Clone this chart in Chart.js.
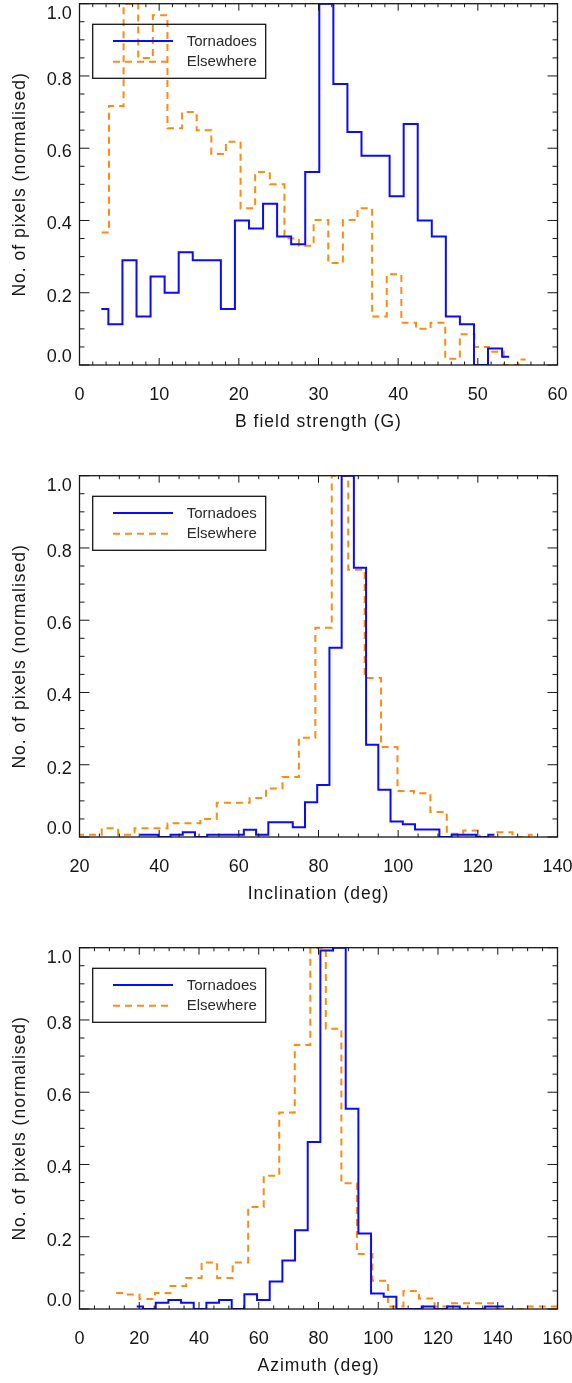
<!DOCTYPE html>
<html><head><meta charset="utf-8">
<script src="https://cdn.jsdelivr.net/npm/chart.js@4.4.1/dist/chart.umd.min.js"></script>
<style>
html,body{margin:0;padding:0;background:#fff;overflow:hidden;width:572px;height:1383px;}
.p{position:absolute;left:0;width:572px;height:439px;}
canvas{display:block;}
</style></head><body>
<div class="p" style="top:0px"><canvas id="c1" width="572" height="439"></canvas></div>
<div class="p" style="top:472px"><canvas id="c2" width="572" height="439"></canvas></div>
<div class="p" style="top:944px"><canvas id="c3" width="572" height="439"></canvas></div>
<script>
// ---------- DATA ----------
const seriesNames = ['Tornadoes', 'Elsewhere'];
const yAxisTitle = 'No. of pixels (normalised)';
const xAxisTitles = ['B field strength (G)', 'Inclination (deg)', 'Azimuth (deg)'];
const xRanges = [[0, 60], [20, 140], [0, 160]];
const xMajorSteps = [10, 20, 20];
const xMinorSteps = [10 / 6, 5, 5];
const yRange = [0, 1];
const yMajorStep = 0.2;

// Panel 1: B field strength
const bTornX = [2.74,4.51,6.27,8.04,9.80,11.57,13.33,15.10,16.86,18.63,20.39,22.16,23.92,25.69,27.45,29.22,30.98,32.75,34.51,36.28,38.04,39.81,41.57,43.34,45.10,46.87,48.63,50.40,52.16,53.93];
const bTornY = [0.155,0.113,0.29,0.134,0.245,0.20,0.312,0.29,0.29,0.155,0.40,0.378,0.446,0.356,0.334,0.534,1.0,0.778,0.645,0.579,0.579,0.467,0.667,0.40,0.356,0.134,0.113,0.0,0.046,0.023];
const bElseX = [2.78,4.62,6.45,8.29,10.12,11.96,13.79,15.63,17.46,19.30,21.13,22.97,24.80,26.64,28.47,30.31,32.14,33.98,35.81,37.65,39.48,41.32,43.15,44.99,46.82,48.66,50.49,52.33,54.16,56.00];
const bElseY = [0.367,0.717,1.0,0.85,0.968,0.655,0.70,0.65,0.584,0.618,0.434,0.534,0.50,0.35,0.33,0.401,0.282,0.401,0.434,0.134,0.251,0.117,0.10,0.117,0.017,0.085,0.05,0.037,0.0,0.015];

// Panel 2: Inclination
const incTornX = [35.19,38.26,41.33,44.39,47.46,50.53,53.60,56.67,59.73,62.80,65.87,68.94,72.01,75.07,78.14,81.21,84.28,87.35,90.41,93.48,96.55,99.62,102.69,105.75,108.82,111.89,114.96,118.03,121.09,124.16];
const incTornY = [0.006,0.006,0.0,0.006,0.013,0.0,0.006,0.006,0.006,0.02,0.006,0.041,0.041,0.027,0.096,0.144,0.524,1.0,0.745,0.255,0.131,0.043,0.035,0.021,0.021,0.0,0.006,0.006,0.0,0.006];
const incElseX = [19.39,23.52,27.64,31.77,35.89,40.02,44.14,48.27,52.39,56.52,60.64,64.77,68.89,73.02,77.14,81.27,85.39,89.52,93.64,97.77,101.89,106.02,110.14,114.27,118.39,122.52,126.64,130.77,134.89];
const incElseY = [0.006,0.006,0.024,0.006,0.024,0.024,0.038,0.038,0.05,0.095,0.095,0.108,0.134,0.166,0.275,0.579,1.0,0.74,0.44,0.249,0.127,0.121,0.069,0.009,0.018,0.0,0.013,0.0,0.006];

// Panel 3: Azimuth
const aziTornX = [19.15,23.39,27.63,31.87,36.11,40.35,44.59,48.83,53.07,57.31,61.55,65.79,70.03,74.27,78.51,82.75,86.99,91.23,95.47,99.71,103.95,108.19,112.43,116.67,120.91,125.15,129.39,133.63,137.87,142.11];
const aziTornY = [0.007,0.0,0.017,0.025,0.017,0.0,0.017,0.025,0.0,0.041,0.025,0.076,0.134,0.218,0.462,0.992,1.0,0.554,0.209,0.043,0.034,0.0,0.0,0.007,0.0,0.007,0.0,0.0,0.007,0.007];
const aziElseX = [12.28,17.48,22.68,27.87,33.07,38.27,43.47,48.67,53.86,59.06,64.26,69.46,74.66,79.85,85.05,90.25,95.45,100.65,105.84,111.04,116.24,121.44,126.64,131.83,137.03,142.23,147.43,152.63,157.82,163.02];
const aziElseY = [0.044,0.04,0.028,0.044,0.064,0.086,0.129,0.086,0.129,0.282,0.369,0.544,0.731,1.0,0.776,0.348,0.152,0.078,0.007,0.05,0.029,0.007,0.016,0.016,0.016,0.0,0.0,0.007,0.007,0.007];

const panels = [
  {id: 'c1', tx: bTornX, ty: bTornY, ex: bElseX, ey: bElseY},
  {id: 'c2', tx: incTornX, ty: incTornY, ex: incElseX, ey: incElseY},
  {id: 'c3', tx: aziTornX, ty: aziTornY, ex: aziElseX, ey: aziElseY}
];

// ---------- STYLE ----------
const FONT = '"Liberation Sans", Arial, Helvetica, sans-serif';
const INK = '#161616';
const BLUE = '#0a0aff';
const ORANGE = '#ff8a12';

const idlFrame = {
  id: 'idlFrame',
  beforeDraw(chart) { chart.ctx.letterSpacing = '1px'; },
  beforeDatasetsDraw(chart) { chart.ctx.letterSpacing = '0px'; },
  afterDatasetsDraw(chart, args, opts) {
    const {ctx, chartArea: a, scales: {x, y}} = chart;
    ctx.save();
    ctx.strokeStyle = INK;
    ctx.lineWidth = 1;
    ctx.beginPath();
    const xm = opts.xMinor, xM = opts.xMajor;
    const nx = Math.round((x.max - x.min) / xm);
    for (let i = 0; i <= nx; i++) {
      const v = x.min + i * xm;
      const r = (v - x.min) / xM;
      const major = Math.abs(r - Math.round(r)) < 1e-6;
      const len = major ? 7 : 3.5;
      const px = x.getPixelForValue(v);
      ctx.moveTo(px, a.bottom); ctx.lineTo(px, a.bottom - len);
      ctx.moveTo(px, a.top); ctx.lineTo(px, a.top + len);
    }
    const ny = Math.round((y.max - y.min) / 0.05);
    for (let i = 0; i <= ny; i++) {
      const v = y.min + i * 0.05;
      const major = i % 4 === 0;
      const len = major ? 10 : 5;
      const py = y.getPixelForValue(v);
      ctx.moveTo(a.left, py); ctx.lineTo(a.left + len, py);
      ctx.moveTo(a.right, py); ctx.lineTo(a.right - len, py);
    }
    ctx.stroke();
    ctx.lineWidth = 1.3;
    ctx.strokeRect(a.left, a.top, a.right - a.left, a.bottom - a.top);
    ctx.restore();
  },
  afterDraw(chart) {
    const {ctx, chartArea: a} = chart;
    const L = a.left, T = a.top;
    ctx.save();
    ctx.letterSpacing = '0px';
    ctx.strokeStyle = INK;
    ctx.lineWidth = 1.3;
    ctx.strokeRect(L + 13.2, T + 20.6, 173, 54);
    chart.data.datasets.forEach((ds, i) => {
      const yy = T + 37.3 + i * 20.7;
      ctx.strokeStyle = ds.borderColor;
      ctx.lineWidth = 2;
      ctx.setLineDash(ds.borderDash || []);
      ctx.beginPath();
      ctx.moveTo(L + 33.5, yy); ctx.lineTo(L + 93.5, yy);
      ctx.stroke();
      ctx.setLineDash([]);
      ctx.fillStyle = '#2a2a2a';
      ctx.font = '15px ' + FONT;
      ctx.textBaseline = 'middle';
      ctx.textAlign = 'left';
      ctx.fillText(ds.label, L + 107.2, yy + 0.5);
    });
    ctx.restore();
  }
};

panels.forEach((p, k) => {
  new Chart(document.getElementById(p.id), {
    type: 'line',
    data: {
      datasets: [
        {label: seriesNames[0], data: p.tx.map((x, i) => ({x, y: p.ty[i]})),
         borderColor: BLUE, borderWidth: 2, stepped: 'middle', pointRadius: 0, fill: false},
        {label: seriesNames[1], data: p.ex.map((x, i) => ({x, y: p.ey[i]})),
         borderColor: ORANGE, borderWidth: 2, borderDash: [7, 5], stepped: 'middle', pointRadius: 0, fill: false}
      ]
    },
    options: {
      responsive: false,
      animation: false,
      events: [],
      layout: {padding: {top: 3.7, right: 14.5, left: 0, bottom: 0}},
      plugins: {legend: {display: false}, tooltip: {enabled: false}, idlFrame: {xMinor: xMinorSteps[k], xMajor: xMajorSteps[k]}},
      scales: {
        x: {
          type: 'linear', min: xRanges[k][0], max: xRanges[k][1],
          grid: {display: false, drawTicks: false}, border: {display: false},
          ticks: {stepSize: xMajorSteps[k], autoSkip: false, maxRotation: 0, padding: 19, z: 1, color: INK,
                  font: {family: FONT, size: 18}, callback: v => String(Math.round(v))},
          title: {display: true, text: xAxisTitles[k], color: INK, font: {family: FONT, size: 17.5}, padding: {top: 0, bottom: 6}},
          afterFit: s => { s.height = 74; s.paddingLeft = 0; s.paddingRight = 0; }
        },
        y: {
          type: 'linear', min: yRange[0], max: yRange[1],
          grid: {display: false, drawTicks: false}, border: {display: false},
          ticks: {stepSize: yMajorStep, padding: 7.8, z: 1, color: INK, labelOffset: 4,
                  font: {family: FONT, size: 18, lineHeight: 12 / 18},
                  callback: v => {
                    const s = v.toFixed(1);
                    if (Math.abs(v - 1) < 1e-9) return ['', s];
                    if (Math.abs(v) < 1e-9) return [s, '', ''];
                    return s;
                  }},
          title: {display: true, text: yAxisTitle, color: INK, font: {family: FONT, size: 17.5}, padding: {top: 9.2, bottom: 0}},
          afterFit: s => { s.width = 79.5; s.paddingTop = 0; s.paddingBottom = 0; }
        }
      }
    },
    plugins: [idlFrame]
  });
});
</script>
</body></html>
